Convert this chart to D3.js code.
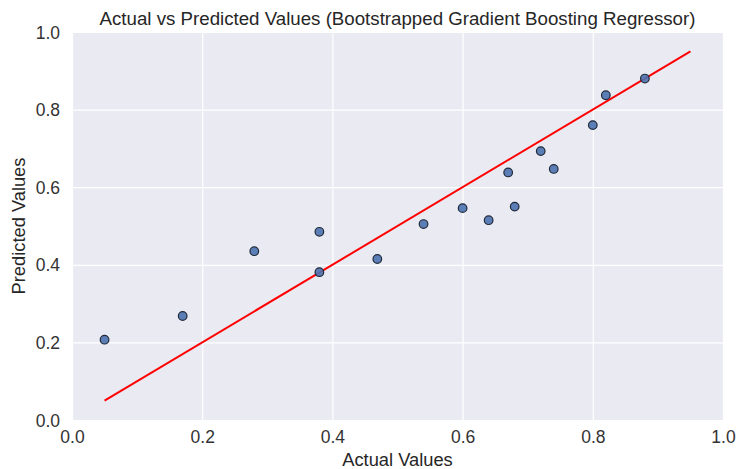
<!DOCTYPE html>
<html><head><meta charset="utf-8">
<script src="https://cdn.jsdelivr.net/npm/d3@7"></script>
<style>body{margin:0;background:#fff}svg{display:block}text{font-family:"Liberation Sans",Arial,sans-serif;fill:#262626}</style>
</head><body><svg id="c" width="739" height="469"></svg>
<script>
const actual =    [0.05, 0.17, 0.28, 0.38, 0.38, 0.469, 0.54, 0.60, 0.64, 0.67, 0.68, 0.72, 0.74, 0.80, 0.82, 0.88];
const predicted = [0.207, 0.268, 0.435, 0.485, 0.381, 0.415, 0.505, 0.546, 0.515, 0.638, 0.550, 0.693, 0.647, 0.760, 0.837, 0.880];
const refLine = [0.05, 0.95];
const xTicks = [0, 0.2, 0.4, 0.6, 0.8, 1.0];
const yTicks = [0, 0.2, 0.4, 0.6, 0.8, 1.0];
const title = "Actual vs Predicted Values (Bootstrapped Gradient Boosting Regressor)";
const xLabel = "Actual Values", yLabel = "Predicted Values";

const svg = d3.select("#c");
const L = 72, R = 723, T = 32, B = 420;
const x = d3.scaleLinear().domain([0, 1]).range([L, R]);
const y = d3.scaleLinear().domain([0, 1]).range([B, T]);

svg.append("rect").attr("x", L).attr("y", T).attr("width", R - L).attr("height", B - T).attr("fill", "#eaeaf2");

const gx = svg.append("g").attr("transform", `translate(0,${B})`)
  .call(d3.axisBottom(x).tickValues(xTicks).tickFormat(d3.format(".1f")).tickSize(-(B - T)).tickPadding(11));
const gy = svg.append("g").attr("transform", `translate(${L},0)`)
  .call(d3.axisLeft(y).tickValues(yTicks).tickFormat(d3.format(".1f")).tickSize(-(R - L)).tickPadding(12));
[gx, gy].forEach(g => {
  g.select(".domain").remove();
  g.selectAll(".tick line").attr("stroke", "#fff").attr("stroke-width", 1.2);
  g.selectAll(".tick text").attr("font-size", 17.5).style("fill", "#333");
});
gy.selectAll(".tick text").attr("dy", "0.35em");

svg.append("line")
  .attr("x1", x(refLine[0])).attr("y1", y(refLine[0]))
  .attr("x2", x(refLine[1])).attr("y2", y(refLine[1]))
  .attr("stroke", "#ff0000").attr("stroke-width", 2);

svg.append("g").selectAll("circle").data(actual.map((a, i) => [a, predicted[i]])).join("circle")
  .attr("cx", d => x(d[0])).attr("cy", d => y(d[1])).attr("r", 4.3)
  .attr("fill", "#4c72b0").attr("fill-opacity", 0.9)
  .attr("stroke", "#1f2a3a").attr("stroke-width", 1.2);

svg.append("text").attr("x", (L + R) / 2).attr("y", 25).attr("text-anchor", "middle")
  .attr("font-size", 18.7).text(title);
svg.append("text").attr("x", (L + R) / 2).attr("y", 466).attr("text-anchor", "middle")
  .attr("font-size", 18.3).text(xLabel);
svg.append("text").attr("transform", `translate(25,${(T + B) / 2}) rotate(-90)`).attr("text-anchor", "middle")
  .attr("font-size", 18.3).text(yLabel);
</script></body></html>
